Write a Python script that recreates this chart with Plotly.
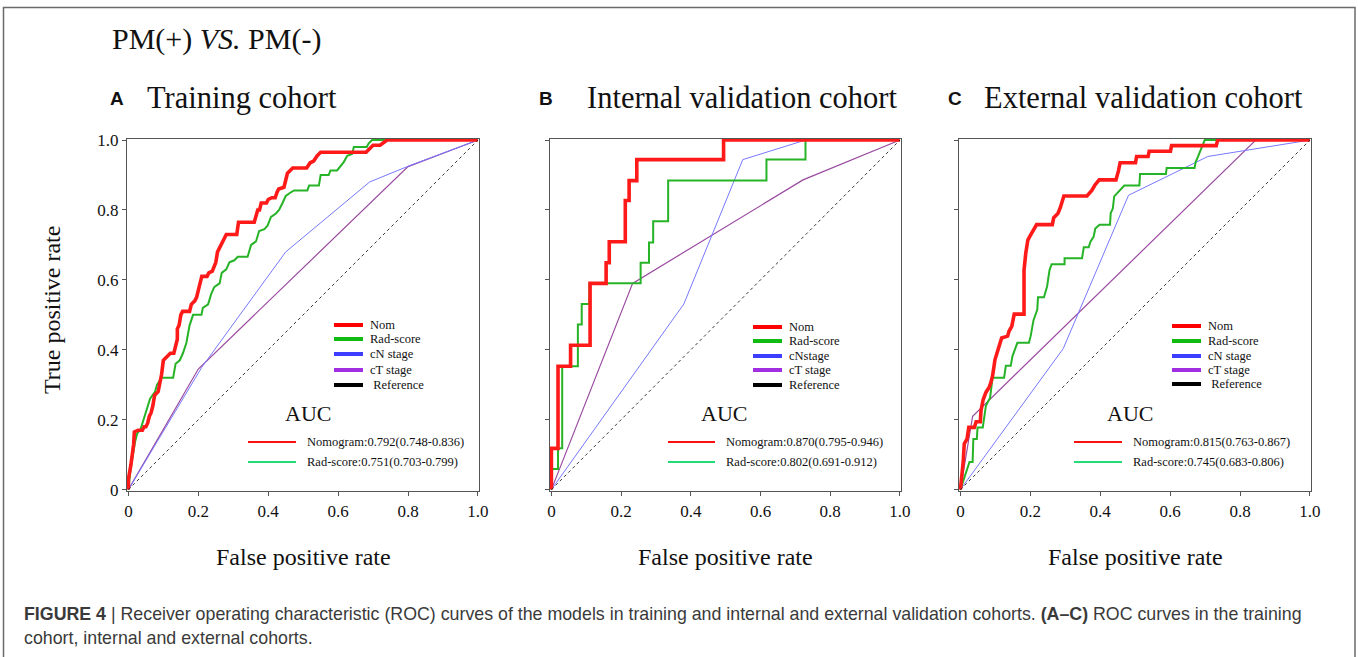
import plotly.graph_objects as go

W, H = 1358, 657

# ---------------- data (fpr, tpr) ----------------
A_NOM = [(0,0),(0,0.03),(0.007,0.07),(0.012,0.10),(0.015,0.13),(0.017,0.165),(0.028,0.17),(0.04,0.17),(0.045,0.18),(0.05,0.18),
         (0.055,0.19),(0.06,0.21),(0.065,0.22),(0.07,0.24),(0.075,0.27),(0.085,0.28),(0.09,0.30),(0.095,0.33),(0.10,0.37),
         (0.11,0.38),(0.12,0.39),(0.13,0.39),(0.135,0.41),(0.14,0.43),(0.14,0.46),(0.145,0.47),(0.15,0.50),(0.155,0.51),
         (0.175,0.51),(0.18,0.53),(0.19,0.54),(0.195,0.55),(0.20,0.57),(0.205,0.59),(0.21,0.61),(0.225,0.61),(0.23,0.62),
         (0.24,0.625),(0.245,0.64),(0.25,0.65),(0.255,0.68),(0.26,0.69),(0.265,0.70),(0.27,0.71),(0.275,0.72),(0.28,0.73),
         (0.31,0.73),(0.315,0.765),(0.36,0.765),(0.365,0.78),(0.37,0.80),(0.375,0.80),(0.38,0.82),(0.395,0.82),(0.40,0.83),
         (0.41,0.835),(0.42,0.835),(0.425,0.85),(0.43,0.86),(0.445,0.865),(0.45,0.89),(0.455,0.905),(0.46,0.91),(0.47,0.92),
         (0.51,0.92),(0.52,0.935),(0.53,0.94),(0.535,0.95),(0.54,0.955),(0.55,0.965),(0.68,0.965),(0.69,0.975),(0.70,0.985),
         (0.72,0.985),(0.74,1.0),(1.0,1.0)]
A_RAD = [(0,0),(0.005,0.05),(0.019,0.136),(0.025,0.16),(0.035,0.173),(0.043,0.20),(0.054,0.23),(0.062,0.26),(0.076,0.28),
         (0.082,0.30),(0.095,0.32),(0.128,0.32),(0.135,0.36),(0.147,0.37),(0.156,0.39),(0.166,0.42),(0.175,0.47),(0.185,0.50),
         (0.209,0.50),(0.213,0.52),(0.228,0.53),(0.237,0.56),(0.246,0.58),(0.261,0.59),(0.267,0.62),(0.28,0.63),(0.289,0.65),
         (0.303,0.656),(0.313,0.666),(0.341,0.666),(0.351,0.70),(0.365,0.71),(0.374,0.74),(0.389,0.745),(0.398,0.755),
         (0.408,0.78),(0.422,0.79),(0.431,0.80),(0.441,0.82),(0.45,0.84),(0.464,0.85),(0.474,0.856),(0.512,0.856),(0.517,0.87),
         (0.545,0.87),(0.55,0.90),(0.573,0.90),(0.578,0.913),(0.597,0.913),(0.607,0.927),(0.616,0.937),(0.626,0.955),
         (0.64,0.96),(0.645,0.98),(0.682,0.98),(0.687,0.99),(0.697,1.0),(1.0,1.0)]
A_CN = [(0,0),(0.21,0.35),(0.45,0.68),(0.69,0.88),(0.80,0.925),(1.0,1.0)]
A_CT = [(0,0),(0.20,0.345),(0.80,0.924),(1.0,1.0)]

B_NOM = [(0,0),(0,0.118),(0.019,0.118),(0.019,0.353),(0.055,0.353),(0.055,0.413),(0.111,0.413),(0.111,0.59),(0.157,0.59),
         (0.157,0.649),(0.166,0.649),(0.166,0.709),(0.212,0.709),(0.212,0.827),(0.223,0.827),(0.223,0.884),(0.245,0.884),
         (0.245,0.944),(0.494,0.944),(0.494,1.0),(1.0,1.0)]
B_RAD = [(0,0),(0,0.059),(0.019,0.059),(0.019,0.118),(0.031,0.118),(0.031,0.353),(0.076,0.353),(0.076,0.472),(0.087,0.472),
         (0.087,0.531),(0.109,0.531),(0.109,0.59),(0.256,0.59),(0.256,0.649),(0.28,0.649),(0.28,0.707),(0.292,0.707),
         (0.292,0.768),(0.335,0.768),(0.335,0.884),(0.617,0.884),(0.617,0.944),(0.729,0.944),(0.729,1.0),(1.0,1.0)]
B_CN = [(0,0),(0.38,0.531),(0.549,0.944),(0.729,1.0),(1.0,1.0)]
B_CT = [(0,0),(0.233,0.59),(0.722,0.886),(1.0,1.0)]

C_NOM = [(0,0),(0.004,0.031),(0.008,0.079),(0.011,0.131),(0.019,0.145),(0.024,0.178),(0.04,0.178),(0.045,0.194),(0.057,0.194),
         (0.059,0.226),(0.065,0.257),(0.073,0.278),(0.082,0.292),(0.087,0.306),(0.092,0.325),(0.099,0.372),(0.104,0.387),
         (0.111,0.41),(0.118,0.434),(0.135,0.439),(0.139,0.453),(0.147,0.467),(0.154,0.502),(0.182,0.502),(0.182,0.628),
         (0.187,0.676),(0.193,0.714),(0.199,0.725),(0.21,0.744),(0.218,0.758),(0.263,0.758),(0.267,0.778),(0.279,0.79),
         (0.286,0.807),(0.296,0.84),(0.362,0.84),(0.376,0.856),(0.384,0.87),(0.397,0.886),(0.445,0.886),(0.452,0.911),
         (0.457,0.935),(0.501,0.935),(0.504,0.953),(0.537,0.953),(0.54,0.968),(0.601,0.968),(0.604,0.984),(0.732,0.984),
         (0.736,1.0),(1.0,1.0)]
C_RAD = [(0,0),(0.011,0.031),(0.026,0.079),(0.035,0.079),(0.037,0.145),(0.047,0.145),(0.049,0.178),(0.064,0.178),
         (0.068,0.211),(0.073,0.24),(0.085,0.263),(0.092,0.32),(0.125,0.32),(0.13,0.354),(0.144,0.354),(0.149,0.382),
         (0.163,0.42),(0.196,0.42),(0.201,0.439),(0.209,0.484),(0.22,0.515),(0.222,0.55),(0.239,0.55),(0.244,0.567),
         (0.248,0.581),(0.255,0.628),(0.261,0.645),(0.298,0.645),(0.298,0.662),(0.348,0.662),(0.353,0.693),(0.367,0.693),
         (0.372,0.709),(0.381,0.723),(0.386,0.747),(0.398,0.758),(0.428,0.758),(0.43,0.791),(0.436,0.804),(0.44,0.839),
         (0.457,0.856),(0.469,0.87),(0.512,0.87),(0.514,0.903),(0.588,0.903),(0.59,0.92),(0.67,0.92),(0.673,0.937),
         (0.68,0.953),(0.687,0.97),(0.694,0.984),(0.699,1.0),(1.0,1.0)]
C_CN = [(0,0),(0.294,0.403),(0.481,0.842),(0.708,0.953),(1.0,1.0)]
C_CT = [(0,0),(0.035,0.21),(0.845,1.0),(1.0,1.0)]

REF = [(0, 0), (1, 1)]

PANEL_LETTERS = ["A", "B", "C"]
PANEL_TITLES = ["Training cohort", "Internal validation cohort", "External validation cohort"]
LEGEND_NAMES = [["Nom", "Rad-score", "cN stage", "cT stage", " Reference"],
                ["Nom", "Rad-score", "cNstage", "cT stage", "Reference"],
                ["Nom", "Rad-score", "cN stage", "cT stage", " Reference"]]
AUC_TEXTS = [["Nomogram:0.792(0.748-0.836)", "Rad-score:0.751(0.703-0.799)"],
             ["Nomogram:0.870(0.795-0.946)", "Rad-score:0.802(0.691-0.912)"],
             ["Nomogram:0.815(0.763-0.867)", "Rad-score:0.745(0.683-0.806)"]]
TICK_VALS = [0, 0.2, 0.4, 0.6, 0.8, 1.0]
TICK_TEXT = ["0", "0.2", "0.4", "0.6", "0.8", "1.0"]

PANEL_DATA = [(A_NOM, A_RAD, A_CN, A_CT), (B_NOM, B_RAD, B_CN, B_CT), (C_NOM, C_RAD, C_CN, C_CT)]

# ---------------- styles / layout (pixels) ----------------
SERIF = "Liberation Serif, Times New Roman, serif"
SANS = "Liberation Sans, Arial, sans-serif"
CURVE_STYLE = [dict(color="#ff1a1a", width=3.6),
               dict(color="#27b327", width=2.0),
               dict(color="#7878ff", width=1.0),
               dict(color="#9a4aa0", width=1.2)]
LEG_COLORS = ["#ff0000", "#11bb11", "#3d3dff", "#a12ee0", "#000000"]
AUC_COLORS = ["#ff1010", "#22dd77"]

PX_X = [(127, 479), (550, 901), (959, 1311)]
PX_Y = (139, 491)
LEG_X = [334, 753, 1172]
LEG_Y = [[325, 339, 354, 370, 385], [327, 341, 356, 370, 385], [326, 341, 356, 370, 384]]
AUC_X = [308, 724, 1130]
AUC_LINE_X = [(248, 296), (668, 715), (1074, 1122)]
LETTER_X = [117, 546, 955]
TITLE_X = [145, 585, 982]


def px(x):
    return x / W


def py(y):
    return 1 - y / H


fig = go.Figure()
shapes, annotations = [], []

for i in range(3):
    ax = "" if i == 0 else str(i + 1)
    xa, ya = "x" + ax, "y" + ax
    nom, rad, cn, ct = PANEL_DATA[i]
    for series, st in zip([ct, cn, rad, nom], [CURVE_STYLE[3], CURVE_STYLE[2], CURVE_STYLE[1], CURVE_STYLE[0]]):
        fig.add_trace(go.Scatter(x=[p[0] for p in series], y=[p[1] for p in series], mode="lines",
                                 line=st, xaxis=xa, yaxis=ya, showlegend=False, hoverinfo="skip"))
    fig.add_trace(go.Scatter(x=[p[0] for p in REF], y=[p[1] for p in REF], mode="lines",
                             line=dict(color="#222", width=0.9, dash="dot"),
                             xaxis=xa, yaxis=ya, showlegend=False, hoverinfo="skip"))

    x0, x1 = PX_X[i]
    common = dict(showline=True, linecolor="#555", linewidth=1.2, mirror=True, showgrid=False, zeroline=False,
                  ticks="outside", ticklen=4, tickcolor="#555", tickvals=TICK_VALS, ticktext=TICK_TEXT,
                  automargin=False,
                  tickfont=dict(family=SERIF, size=17, color="#111"), range=[-0.004, 1.003], fixedrange=True)
    fig.update_layout(**{
        "xaxis" + ax: dict(common, domain=[px(x0), px(x1)], anchor=ya),
        "yaxis" + ax: dict(common, domain=[py(PX_Y[1]), py(PX_Y[0])], anchor=xa, showticklabels=(i == 0)),
    })

    # panel titles
    annotations.append(dict(x=px(LETTER_X[i]), y=py(99), xref="paper", yref="paper", text="<b>" + PANEL_LETTERS[i] + "</b>",
                            showarrow=False, xanchor="center", yanchor="middle",
                            font=dict(family=SANS, size=19, color="#111")))
    annotations.append(dict(x=px(TITLE_X[i]), y=py(98), xref="paper", yref="paper", text=PANEL_TITLES[i],
                            showarrow=False, xanchor="left", yanchor="middle",
                            font=dict(family=SERIF, size=30.5, color="#111")))
    # x axis title
    annotations.append(dict(x=px((x0 + x1) / 2), y=py(557), xref="paper", yref="paper", text="False positive rate",
                            showarrow=False, xanchor="center", yanchor="middle",
                            font=dict(family=SERIF, size=24, color="#111")))

    # legend
    lx = LEG_X[i]
    for k, name in enumerate(LEGEND_NAMES[i]):
        yy = LEG_Y[i][k]
        shapes.append(dict(type="line", xref="paper", yref="paper", x0=px(lx), x1=px(lx + 29), y0=py(yy), y1=py(yy),
                           line=dict(color=LEG_COLORS[k], width=4)))
        annotations.append(dict(x=px(lx + 34), y=py(yy), xref="paper", yref="paper", text=name, showarrow=False,
                                xanchor="left", yanchor="middle", font=dict(family=SERIF, size=12.5, color="#111")))
    # AUC block
    annotations.append(dict(x=px(AUC_X[i]), y=py(413), xref="paper", yref="paper", text="AUC", showarrow=False,
                            xanchor="center", yanchor="middle", font=dict(family=SERIF, size=22, color="#111")))
    for k in range(2):
        yy = 442 + 20 * k
        a0, a1 = AUC_LINE_X[i]
        shapes.append(dict(type="line", xref="paper", yref="paper", x0=px(a0), x1=px(a1), y0=py(yy), y1=py(yy),
                           line=dict(color=AUC_COLORS[k], width=2)))
        annotations.append(dict(x=px(a1 + 9), y=py(yy), xref="paper", yref="paper", text=AUC_TEXTS[i][k],
                                showarrow=False, xanchor="left", yanchor="middle",
                                font=dict(family=SERIF, size=12.5, color="#111")))

# y axis title
annotations.append(dict(x=px(52), y=py(310), xref="paper", yref="paper", text="True positive rate", textangle=-90,
                        showarrow=False, xanchor="center", yanchor="middle",
                        font=dict(family=SERIF, size=24, color="#111")))
# main heading
annotations.append(dict(x=px(110), y=py(39), xref="paper", yref="paper", text="PM(+) <i>VS.</i> PM(-)",
                        showarrow=False, xanchor="left", yanchor="middle",
                        font=dict(family=SERIF, size=30, color="#111")))
# caption
CAP_FONT = dict(family="Liberation Sans, Arial, sans-serif", size=17.8, color="#3a3a3a")
annotations.append(dict(x=px(22), y=py(614), xref="paper", yref="paper",
                        text="<b>FIGURE 4</b> | Receiver operating characteristic (ROC) curves of the models in training and "
                             "internal and external validation cohorts. <b>(A–C)</b> ROC curves in the training",
                        showarrow=False, xanchor="left", yanchor="middle", font=CAP_FONT))
annotations.append(dict(x=px(22), y=py(638), xref="paper", yref="paper",
                        text="cohort, internal and external cohorts.",
                        showarrow=False, xanchor="left", yanchor="middle", font=CAP_FONT))

# outer frame
shapes.append(dict(type="rect", xref="paper", yref="paper", x0=px(3.5), x1=px(1355), y0=-0.05, y1=py(7.5),
                   line=dict(color="#6a6a6a", width=1.5), layer="below"))

fig.update_layout(width=W, height=H, margin=dict(l=0, r=0, t=0, b=0, pad=0, autoexpand=False),
                  paper_bgcolor="white", plot_bgcolor="white",
                  shapes=shapes, annotations=annotations, showlegend=False)

fig.write_html("out.html", config={"displayModeBar": False},
               post_script="document.body.style.margin='0';document.body.style.overflow='hidden';")
